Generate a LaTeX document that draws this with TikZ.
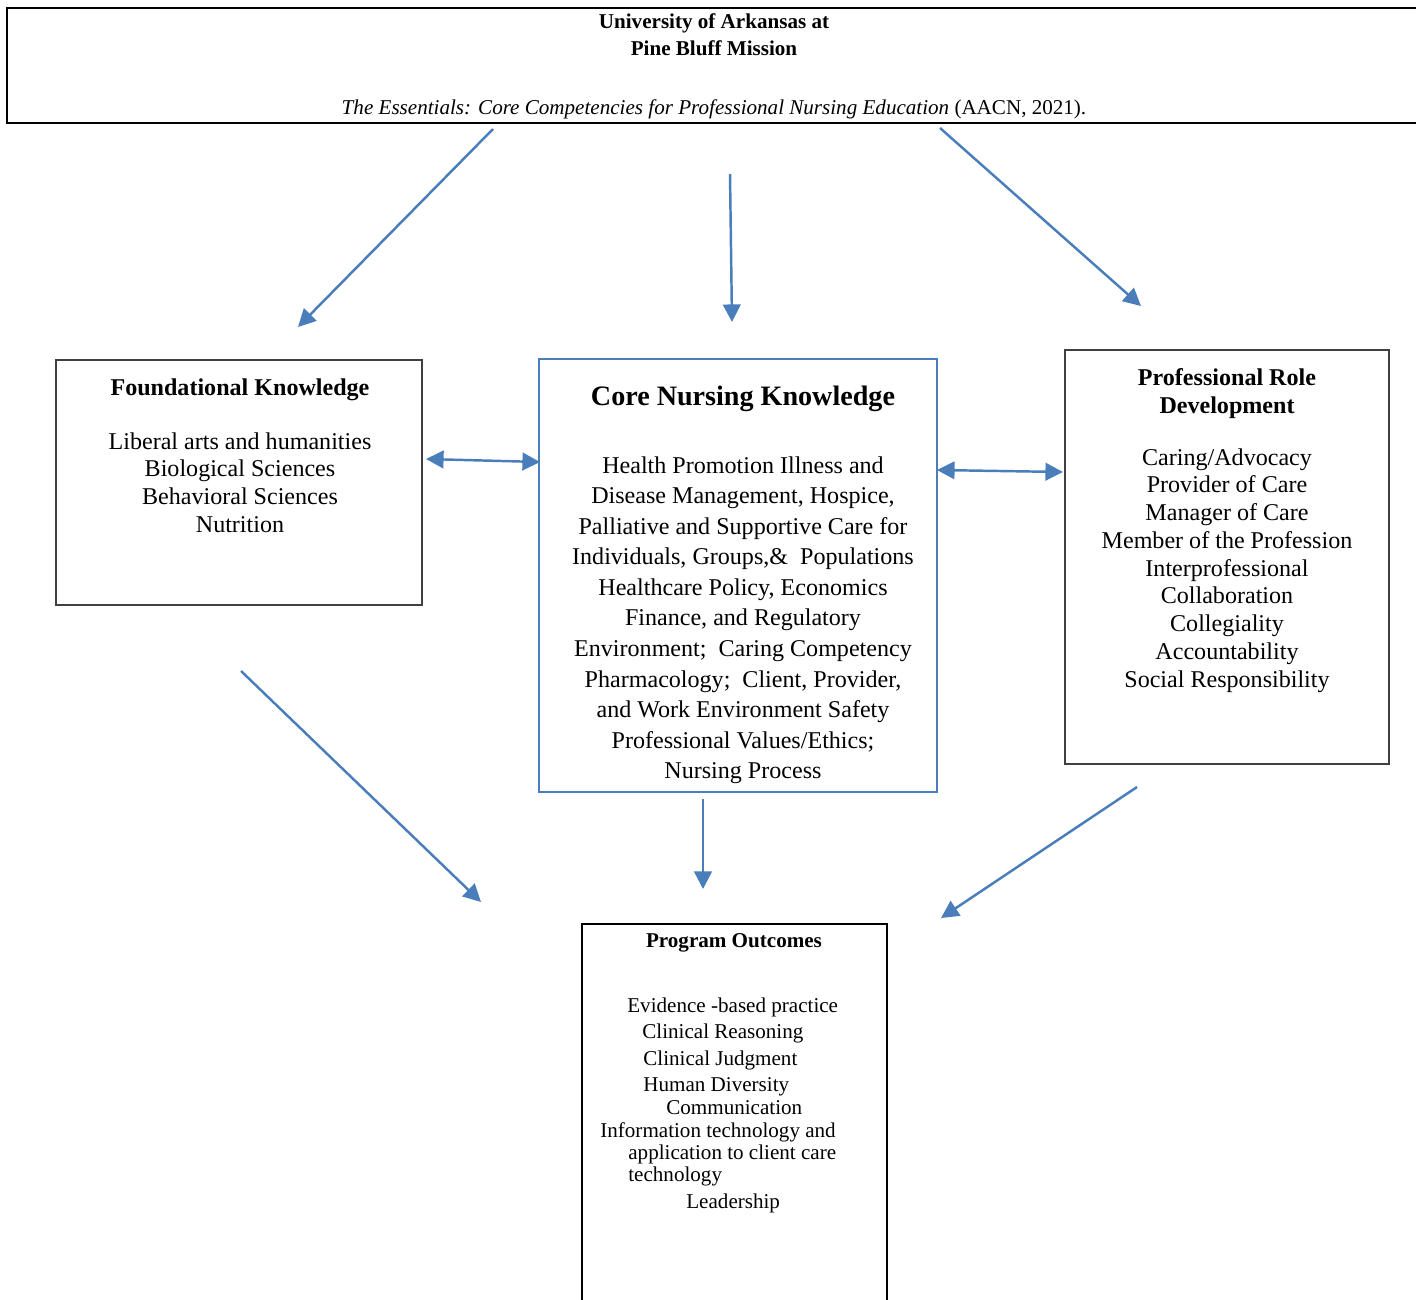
\documentclass[tikz,border=0pt]{standalone}
\usepackage{fontspec}
\setmainfont{Liberation Serif}
\usetikzlibrary{arrows.meta}
\definecolor{wordblue}{RGB}{74,126,187}
\newcommand{\fsbody}{\fontsize{13.7}{15.8}\selectfont}
\newcommand{\fscore}{\fontsize{13.7}{17.4}\selectfont}
\newcommand{\fssmall}{\fontsize{12}{15.3}\selectfont}
\tikzset{
    boxblack/.style={draw=black, line width=1.1pt, inner sep=0pt},
    boxgray/.style={draw=black!75, line width=0.75pt, inner sep=0pt},
    boxblue/.style={draw=wordblue, line width=1.4pt, inner sep=0pt},
    bluearrow/.style={draw=wordblue, line width=1.4pt, -{Triangle[length=10pt,width=10pt]}},
    bothways/.style={bluearrow, {Triangle[length=10pt,width=10pt]}-{Triangle[length=10pt,width=10pt]}},
    txt/.style={inner sep=0pt, align=center, anchor=north},
    outline/.style={inner sep=0pt, anchor=base west, font=\fssmall},
}
\begin{document}
\begin{tikzpicture}[x=0.02cm, y=-0.02cm]
    \clip (0,0) rectangle (1416,1299);
    % boxes
    \node[boxblack, minimum width=28.36cm, minimum height=2.3cm] (mission) at (716,65.5) {};
    \node[boxgray, minimum width=7.32cm, minimum height=4.9cm] (found) at (239,482.5) {};
    \node[boxblue, minimum width=7.96cm, minimum height=8.66cm] (core) at (738,575.5) {};
    \node[boxgray, minimum width=6.48cm, minimum height=8.28cm] (prof) at (1227,557) {};
    \node[boxblack, minimum width=6.1cm, minimum height=7.92cm] (outcomes) at (734.5,1122) {};
    % texts
    \node[txt, font=\fssmall\bfseries] (missiontitle) at (714,13) {University of Arkansas at\\Pine Bluff Mission};
    \node[inner sep=0pt, anchor=base, font=\fssmall] (essentials) at (714,114)
        {\textit{The Essentials: Core Competencies for Professional Nursing Education} (AACN, 2021).};
    \node[txt, font=\fsbody\bfseries] (foundtitle) at (240,378) {Foundational Knowledge};
    \node[txt, font=\fsbody] (foundlist) at (240,432)
        {Liberal arts and humanities\\Biological Sciences\\Behavioral Sciences\\Nutrition};
    \node[txt, font=\fontsize{16}{19}\selectfont\bfseries] (coretitle) at (743,386) {Core Nursing Knowledge};
    \node[txt, font=\fscore] (corelist) at (743,456)
        {Health Promotion Illness and\\Disease Management, Hospice,\\Palliative and Supportive Care for\\
         Individuals, Groups,\&~ Populations\\Healthcare Policy, Economics\\Finance, and Regulatory\\
         Environment;~ Caring Competency\\Pharmacology;~ Client, Provider,\\and Work Environment Safety\\
         Professional Values/Ethics;\\Nursing Process};
    \node[txt, font=\fsbody\bfseries] (proftitle) at (1227,368) {Professional Role\\Development};
    \node[txt, font=\fsbody] (proflist) at (1227,448)
        {Caring/Advocacy\\Provider of Care\\Manager of Care\\Member of the Profession\\Interprofessional\\
         Collaboration\\Collegiality\\Accountability\\Social Responsibility};
    \node[inner sep=0pt, anchor=base, font=\fssmall\bfseries] (outtitle) at (734,947) {Program Outcomes};
    \node[outline] (o1) at (627,1012) {Evidence -based practice};
    \node[outline] (o2) at (642,1038) {Clinical Reasoning};
    \node[outline] (o3) at (643,1065) {Clinical Judgment};
    \node[outline] (o4) at (643,1091) {Human Diversity};
    \node[outline] (o5) at (666,1114) {Communication};
    \node[outline] (o6) at (600,1137) {Information technology and};
    \node[outline] (o7) at (628,1159) {application to client care};
    \node[outline] (o8) at (628,1181) {technology};
    \node[outline] (o9) at (686,1208) {Leadership};
    % arrow ends
    \coordinate (mL) at (493,129);
    \coordinate (foundin) at (298,327);
    \coordinate (mC) at (730,174);
    \coordinate (corein) at (732,322);
    \coordinate (mR) at (940,128);
    \coordinate (profin) at (1141,306);
    \coordinate (foundR) at (426,459);
    \coordinate (coreL) at (540,462);
    \coordinate (coreR) at (937,470);
    \coordinate (profL) at (1063,472);
    \coordinate (foundout) at (241,671);
    \coordinate (outL) at (481,902);
    \coordinate (coreout) at (703,799);
    \coordinate (outC) at (703,889);
    \coordinate (profout) at (1137,787);
    \coordinate (outR) at (941,918);
    % arrows
    \draw[bluearrow] (mL) -- (foundin);
    \draw[bluearrow] (mC) -- (corein);
    \draw[bluearrow] (mR) -- (profin);
    \draw[bothways] (foundR) -- (coreL);
    \draw[bothways] (coreR) -- (profL);
    \draw[bluearrow] (foundout) -- (outL);
    \draw[bluearrow] (coreout) -- (outC);
    \draw[bluearrow] (profout) -- (outR);
\end{tikzpicture}
\end{document}
